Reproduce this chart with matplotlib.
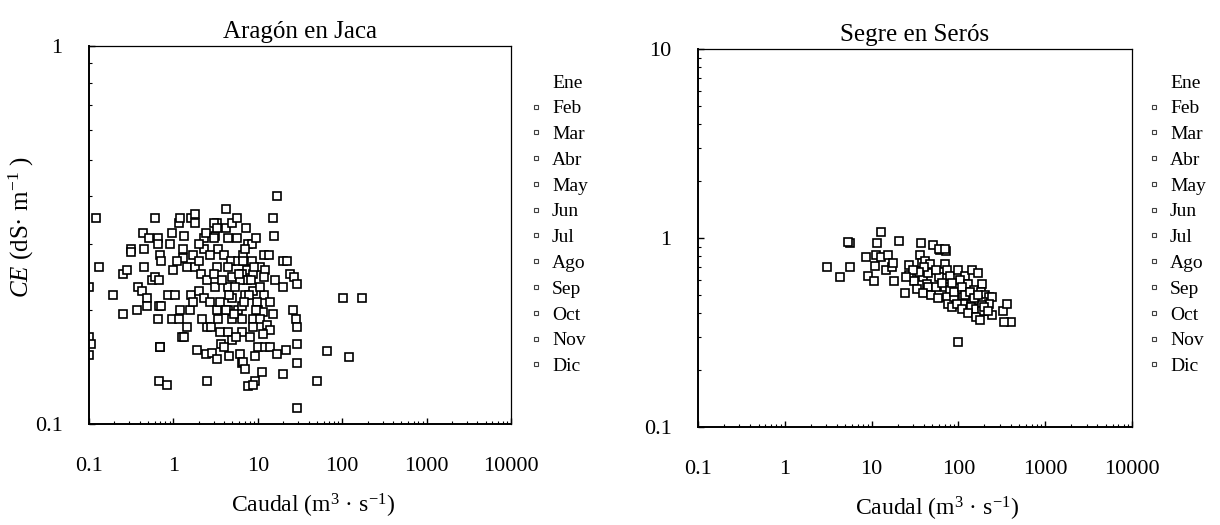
'''
Conductividad electrica frente a caudal en dos estaciones del Ebro.
'''
import matplotlib
matplotlib.use('Agg')
import matplotlib.pyplot as plt
from matplotlib.lines import Line2D
from matplotlib.ticker import NullFormatter

plt.rcParams['font.family'] = ['Liberation Serif', 'DejaVu Serif']
plt.rcParams['mathtext.fontset'] = 'custom'
plt.rcParams['mathtext.rm'] = 'Liberation Serif'
plt.rcParams['mathtext.it'] = 'Liberation Serif:italic'

months = ['Ene', 'Feb', 'Mar', 'Abr', 'May', 'Jun',
          'Jul', 'Ago', 'Sep', 'Oct', 'Nov', 'Dic']
xticks = [0.1, 1, 10, 100, 1000, 10000]
xticklabels = ['0.1', '1', '10', '100', '1000', '10000']

# Aragon en Jaca: caudal (m3/s), CE (dS/m)
jaca_q = [0.12, 0.13, 0.1, 0.1, 0.105, 0.1, 0.19, 0.25, 0.31, 0.31, 0.25, 0.28,
          0.38, 0.42, 0.48, 0.37, 0.48, 0.43, 0.52, 0.45, 0.45, 0.6, 0.65, 0.65,
          0.7, 0.72, 0.55, 0.6, 0.68, 0.67, 0.72, 0.65, 0.7, 0.68, 0.83, 0.85,
          1.0, 0.97, 0.97, 1.15, 1.05, 1.2, 1.15, 1.3, 1.3, 1.35, 1.25, 1.35,
          1.45, 1.55, 1.6, 1.8, 1.7, 1.45, 1.8, 1.6, 2.0, 2.0, 2.1, 2.3, 2.4,
          2.3, 2.5, 2.3, 2.7, 1.9, 2.4, 2.5, 2.5, 2.8, 2.9, 3.3, 3.3, 3.1, 3.4,
          3.3, 3.1, 3.3, 3.4, 3.6, 3.7, 4.2, 4.9, 4.2, 4.4, 4.0, 4.8, 4.4, 5.0,
          4.4, 4.9, 4.4, 5.0, 4.4, 5.0, 4.6, 5.6, 5.8, 5.8, 6.1, 6.5,
          16.9, 15, 15.5, 7.7, 8.5, 11.8, 13.5, 6.7, 6.7, 8.5, 20, 22, 10.6,
          12, 7.4, 8.8, 6.5, 11.8, 15.9, 20, 24, 26.5, 29, 7.4, 6.2, 8.8, 7,
          11.8, 13.9, 9.8, 6.5, 10.1, 11.5, 15, 8.8, 10.6, 6.5, 26, 28, 29,
          12.8, 8.8, 13.9, 6.5, 11.5, 29, 10.1, 12, 14, 16.9, 21.5, 9.3, 6.7,
          29, 66, 120, 102, 170, 7.1, 11.2, 9.3, 7.7, 8.8, 20, 50, 29,
          0.7, 1.2, 1.8, 3.0, 3.3, 2.0, 2.7, 3.0, 3.8, 4.6, 5.4, 6.0, 7.0, 3.6,
          4.2, 5.2, 7.8, 8.2, 9.0, 10.5, 2.2, 1.7, 1.1, 0.9, 5.6, 7.2, 9.5,
          6.8, 4.0, 5.5, 8.0, 9.5, 3.0]
jaca_ce = [0.35, 0.26, 0.23, 0.17, 0.163, 0.152, 0.22, 0.195, 0.29, 0.285,
           0.25, 0.255, 0.23, 0.225, 0.215, 0.2, 0.205, 0.32, 0.31, 0.29,
           0.26, 0.35, 0.31, 0.3, 0.28, 0.27, 0.24, 0.245, 0.24, 0.205, 0.205,
           0.19, 0.16, 0.13, 0.127, 0.22, 0.255, 0.32, 0.19, 0.34, 0.22, 0.2,
           0.19, 0.29, 0.275, 0.315, 0.17, 0.17, 0.18, 0.2, 0.35, 0.34, 0.28,
           0.26, 0.26, 0.22, 0.225, 0.27, 0.25, 0.31, 0.32, 0.29, 0.24, 0.215,
           0.21, 0.157, 0.153, 0.13, 0.18, 0.18, 0.154, 0.149, 0.34, 0.315,
           0.29, 0.26, 0.23, 0.2, 0.19, 0.175, 0.163, 0.33, 0.34, 0.37, 0.31,
           0.28, 0.27, 0.26, 0.245, 0.23, 0.215, 0.2, 0.19, 0.175, 0.167,
           0.151, 0.31, 0.27, 0.2, 0.153, 0.145,
           0.4, 0.35, 0.315, 0.3, 0.3, 0.28, 0.28, 0.28, 0.27, 0.27, 0.27,
           0.27, 0.26, 0.255, 0.255, 0.25, 0.25, 0.245, 0.24, 0.23, 0.25,
           0.245, 0.235, 0.24, 0.24, 0.225, 0.22, 0.22, 0.21, 0.21, 0.205,
           0.2, 0.198, 0.195, 0.19, 0.19, 0.19, 0.2, 0.19, 0.18, 0.183, 0.18,
           0.177, 0.175, 0.173, 0.163, 0.16, 0.16, 0.16, 0.153, 0.157, 0.151,
           0.146, 0.145, 0.156, 0.15, 0.215, 0.216, 0.14, 0.137, 0.13, 0.126,
           0.127, 0.136, 0.13, 0.11,
           0.16, 0.35, 0.36, 0.34, 0.33, 0.3, 0.28, 0.25, 0.24, 0.22, 0.23,
           0.25, 0.29, 0.21, 0.2, 0.195, 0.22, 0.24, 0.26, 0.23, 0.19, 0.21,
           0.27, 0.3, 0.35, 0.33, 0.31, 0.21, 0.16, 0.17, 0.17, 0.2, 0.31]

# Segre en Seros
seros_q = [4.3, 5.6, 5.6, 8.6, 9.1, 10.6, 10.9, 11.2, 11.7, 12.8, 13, 15.5,
           14.8, 17, 17.8, 18, 20.5, 24.6, 27, 27, 31, 33, 37, 36, 38, 41, 39,
           45, 47, 51, 43, 45, 39, 48, 58, 56, 61, 72, 70, 74, 80, 70, 80, 74,
           77, 90, 84, 100, 96, 118, 104, 129, 145, 167, 186, 129, 114, 140,
           153, 181, 203, 228, 245, 125, 145, 167, 194, 228, 114, 140, 160,
           188, 194, 186, 246, 324, 368, 400, 100, 96, 3.1, 340, 5.4, 60, 70,
           60, 65, 85, 90, 110, 120, 135, 150, 170, 55, 40, 35, 30, 25, 110,
           130, 160, 200, 220, 180]
seros_ce = [0.62, 0.7, 0.94, 0.79, 0.63, 0.59, 0.71, 0.81, 0.94, 1.07, 0.79,
            0.81, 0.68, 0.7, 0.74, 0.59, 0.96, 0.51, 0.72, 0.64, 0.59, 0.54,
            0.94, 0.81, 0.74, 0.76, 0.62, 0.65, 0.73, 0.92, 0.57, 0.55, 0.51,
            0.5, 0.48, 0.55, 0.86, 0.85, 0.73, 0.68, 0.63, 0.55, 0.53, 0.49,
            0.45, 0.49, 0.43, 0.68, 0.56, 0.63, 0.6, 0.57, 0.68, 0.65, 0.57,
            0.52, 0.49, 0.49, 0.53, 0.52, 0.5, 0.49, 0.49, 0.47, 0.45, 0.47,
            0.46, 0.45, 0.45, 0.43, 0.42, 0.44, 0.41, 0.41, 0.39, 0.41, 0.45,
            0.36, 0.28, 0.45, 0.7, 0.36, 0.95, 0.87, 0.87,
            0.62, 0.58, 0.58, 0.52, 0.55, 0.5, 0.52, 0.48, 0.5, 0.68, 0.7,
            0.66, 0.68, 0.62, 0.42, 0.4, 0.38, 0.43, 0.41, 0.37]

fig = plt.figure(figsize=(12.2, 5.25), dpi=100)
ax1 = fig.add_axes([0.0730, 0.1924, 0.3459, 0.720])
ax2 = fig.add_axes([0.5721, 0.1867, 0.3557, 0.720])

panels = [(ax1, jaca_q, jaca_ce, 'Aragón en Jaca', (0.1, 1), [0.1, 1], ['0.1', '1'],
           0.53, 532.5),
          (ax2, seros_q, seros_ce, 'Segre en Serós', (0.1, 10), [0.1, 1, 10],
           ['0.1', '1', '10'], 0.55, 1150.5)]

for ax, q, ce, title, ylim, yt, ytl, xlab_x, leg_x in panels:
  ax.plot(q, ce, ls='none', marker='s', ms=5.2, mfc='white', mec='black', mew=1.2)
  ax.set_xscale('log')
  ax.set_yscale('log')
  ax.set_xlim(0.1, 10000)
  ax.set_ylim(*ylim)
  ax.set_xticks(xticks)
  ax.set_xticklabels(xticklabels)
  ax.set_yticks(yt)
  ax.set_yticklabels(ytl)
  ax.xaxis.set_minor_formatter(NullFormatter())
  ax.yaxis.set_minor_formatter(NullFormatter())
  ax.tick_params(which='major', direction='in', length=4, width=1,
                 labelsize=16, top=False, right=False)
  ax.tick_params(axis='x', which='major', pad=24)
  ax.tick_params(axis='y', which='major', pad=19)
  ax.tick_params(which='minor', direction='in', length=2.5, width=0.8,
                 top=False, right=False)
  for side in ['left', 'bottom']:
    ax.spines[side].set_linewidth(1.4)
  for side in ['top', 'right']:
    ax.spines[side].set_linewidth(0.9)
  ax.set_title(title, fontsize=18, pad=6)
  ax.set_xlabel('Caudal (m$^3$ · s$^{-1}$)', fontsize=17)
  ax.xaxis.set_label_coords(xlab_x, -0.18)

  handles = []
  for i, m in enumerate(months):
    handles.append(Line2D([], [], ls='none', marker='s' if i > 0 else None,
                          ms=3.5, mfc='white', mec='0.25', mew=0.8))
  ax.legend(handles, months, loc='upper left', frameon=False, fontsize=14,
            bbox_to_anchor=(leg_x / 1220, 1 - 74 / 525),
            bbox_transform=fig.transFigure, borderpad=0, borderaxespad=0,
            handlelength=0.4, handletextpad=0.6, labelspacing=0.42)

ax1.set_ylabel('$\\mathit{CE}$ (dS· m$^{-1}$ )', fontsize=18)
ax1.yaxis.set_label_coords(-0.125, 0.52)

plt.savefig('out.png', dpi=100)
